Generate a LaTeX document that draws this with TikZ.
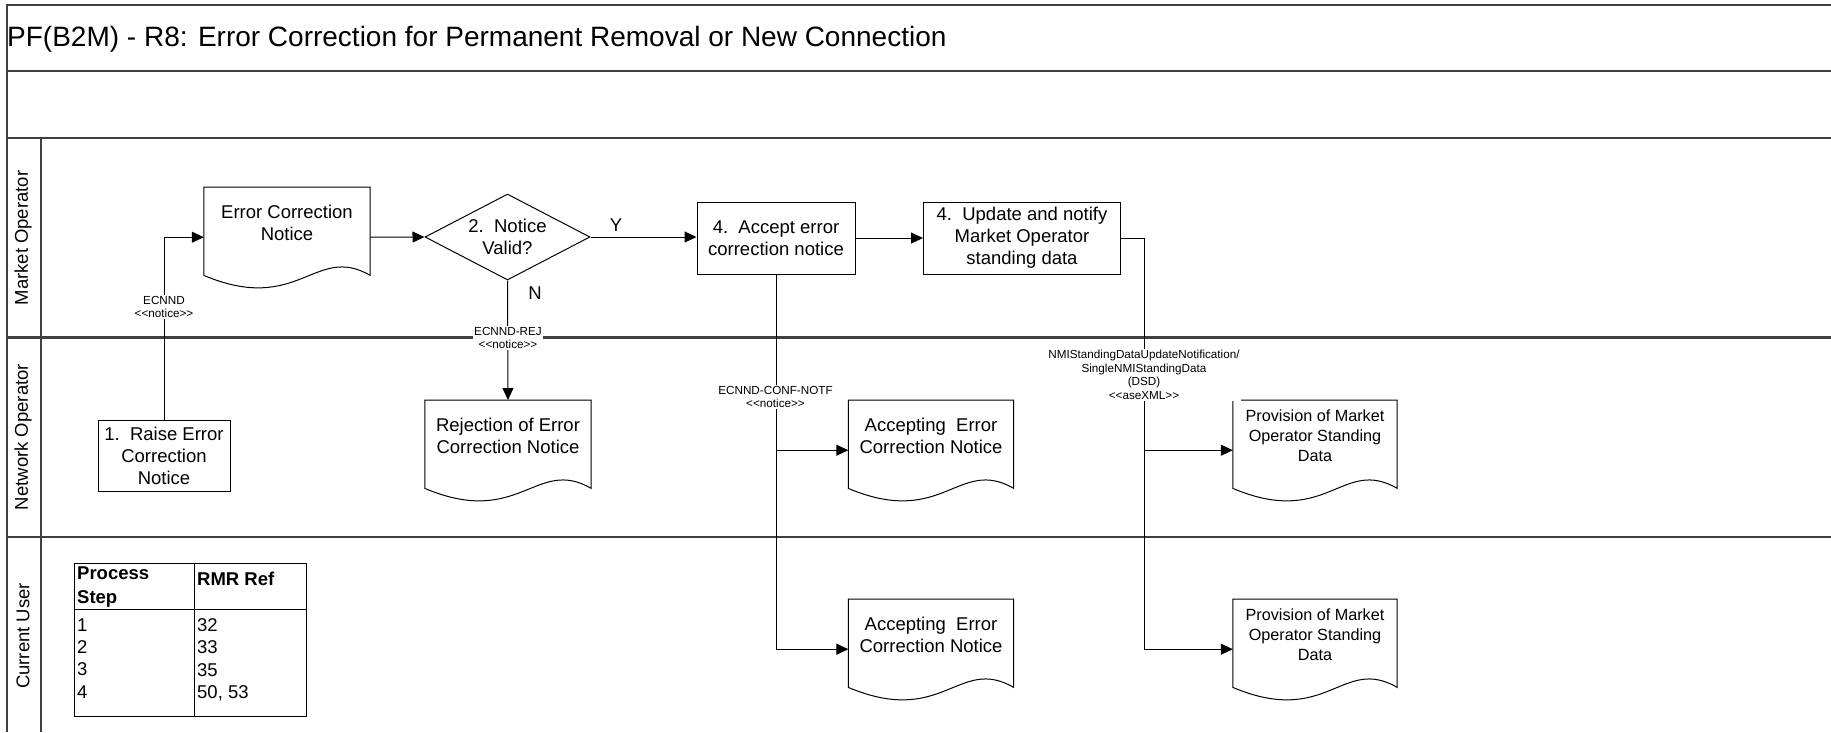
\documentclass[tikz,border=0pt]{standalone}
\usepackage{fontspec}
\setmainfont{Liberation Sans}
\usetikzlibrary{arrows.meta,shapes.geometric}

\newcommand\ttlfont{\fontsize{28pt}{33pt}\selectfont}
\newcommand\boxfont{\fontsize{18.5pt}{22pt}\selectfont}
\newcommand\provfont{\fontsize{16.2pt}{20pt}\selectfont}
\newcommand\msgfont{\fontsize{11.7pt}{13.5pt}\selectfont}
\newcommand\tblfont{\fontsize{18.5pt}{22.3pt}\selectfont}

\tikzset{
  lane/.style={line width=2.2pt, draw=black!75},
  stepbox/.style={draw, line width=1pt, align=center, font=\boxfont, inner sep=0pt},
  docbox/.style={align=center, font=\boxfont, minimum width=166pt, minimum height=71pt, inner sep=0pt, anchor=north},
  docline/.style={line width=1pt},
  flow/.style={line width=1pt, -{Triangle[length=12pt,width=11pt]}},
  link/.style={line width=1pt},
  msg/.style={fill=white, align=center, font=\msgfont, inner sep=1pt},
}

\begin{document}
\begin{tikzpicture}[x=1pt,y=-1pt]
  \useasboundingbox (0,0) rectangle (1831,732);

  % 泳道
  \draw[lane] (1831,5) -- (7,5) -- (7,732);
  \draw[lane] (7,71) -- (1831,71);
  \draw[lane] (7,138) -- (1831,138);
  \draw[lane] (7,337.5) -- (1831,337.5);
  \draw[lane] (7,537) -- (1831,537);
  \draw[lane] (41,138) -- (41,732);

  \node[anchor=west, inner sep=0pt, font=\ttlfont] (title) at (7,39) {PF(B2M) - R8: Error Correction for Permanent Removal or New Connection};

  \node[rotate=90, font=\boxfont] (mo) at (23,238) {Market Operator};
  \node[rotate=90, font=\boxfont] (no) at (23,437) {Network Operator};
  \node[rotate=90, font=\boxfont] (cu) at (23,636) {Current User};

  % Market Operator
  \node[docbox] (ecn) at (287,187) {Error Correction\\Notice};
  \node[diamond, draw, line width=1pt, aspect=1.9, minimum width=165pt, minimum height=86pt, inner sep=0pt, align=center, font=\boxfont] (valid) at (507.5,237) {2.\ \ Notice\\Valid?};
  \node[stepbox, minimum width=158pt, minimum height=72pt] (accept) at (776,238) {4.\ \ Accept error\\correction notice};
  \node[stepbox, minimum width=197pt, minimum height=72pt] (update) at (1022,238) {4.\ \ Update and notify\\Market Operator\\standing data};

  % Network Operator
  \node[stepbox, minimum width=132pt, minimum height=71pt] (raise) at (164,455.5) {1.\ \ Raise Error\\Correction\\Notice};
  \node[docbox] (rej) at (508,400) {Rejection of Error\\Correction Notice};
  \node[docbox, minimum width=165pt] (accno) at (931,400) {Accepting\ \ Error\\Correction Notice};
  \node[docbox, minimum width=164pt, font=\provfont] (provno) at (1315,400) {Provision of Market\\Operator Standing\\Data};

  % Current User
  \node[docbox, minimum width=165pt] (acccu) at (931,599) {Accepting\ \ Error\\Correction Notice};
  \node[docbox, minimum width=164pt, font=\provfont] (provcu) at (1315,599) {Provision of Market\\Operator Standing\\Data};

  % 文档边线
  \draw[docline] (ecn.north west) -- ([yshift=-17pt]ecn.south west) .. controls +(95,40) and +(-55,-32) .. ([yshift=-17pt]ecn.south east) -- (ecn.north east) -- cycle;
  \draw[docline] (rej.north west) -- ([yshift=-17pt]rej.south west) .. controls +(95,40) and +(-55,-32) .. ([yshift=-17pt]rej.south east) -- (rej.north east) -- cycle;
  \draw[docline] (accno.north west) -- ([yshift=-17pt]accno.south west) .. controls +(95,40) and +(-55,-32) .. ([yshift=-17pt]accno.south east) -- (accno.north east) -- cycle;
  \draw[docline] (provno.north west) -- ([yshift=-17pt]provno.south west) .. controls +(95,40) and +(-55,-32) .. ([yshift=-17pt]provno.south east) -- (provno.north east) -- cycle;
  \draw[docline] (acccu.north west) -- ([yshift=-17pt]acccu.south west) .. controls +(95,40) and +(-55,-32) .. ([yshift=-17pt]acccu.south east) -- (acccu.north east) -- cycle;
  \draw[docline] (provcu.north west) -- ([yshift=-17pt]provcu.south west) .. controls +(95,40) and +(-55,-32) .. ([yshift=-17pt]provcu.south east) -- (provcu.north east) -- cycle;

  \coordinate (ecnin) at ([yshift=-14.5pt]ecn.west);
  \coordinate (accnoin) at ([yshift=-14.5pt]accno.west);
  \coordinate (provnoin) at ([yshift=-14.5pt]provno.west);
  \coordinate (acccuin) at ([yshift=-14.5pt]acccu.west);
  \coordinate (provcuin) at ([yshift=-14.5pt]provcu.west);
  \coordinate (turn) at ([xshift=23pt]update.east);

  % 连线
  \draw[flow] (raise.north) |- (ecnin);
  \draw[flow] (ecnin -| ecn.east) -- (valid.west);
  \draw[flow] (valid.east) -- (valid.east -| accept.west);
  \draw[flow] (accept.east) -- (update.west);
  \draw[flow] (valid.south) -- (rej.north);
  \draw[flow] (accept.south) |- (acccuin);
  \draw[flow] (accept.south |- accnoin) -- (accnoin);
  \draw[flow] (update.east) -- (turn) |- (provcuin);
  \draw[flow] (turn |- provnoin) -- (provnoin);

  % 消息
  \node[msg] (ecnndlbl) at (164,307) {ECNND\\<{}<notice>{}>};
  \node[msg] (rejlbl) at (508,338) {ECNND-REJ\\<{}<notice>{}>};
  \node[msg] (conflbl) at (775.5,397) {ECNND-CONF-NOTF\\<{}<notice>{}>};
  \node[msg] (dsdlbl) at (1144,375) {NMIStandingDataUpdateNotification/\\SingleNMIStandingData\\(DSD)\\<{}<aseXML>{}>};
  \node[font=\boxfont] (ylbl) at (616,225) {Y};
  \node[font=\boxfont] (nlbl) at (535,293) {N};

  % 表
  \draw[link] (74,563) rectangle (306,716);
  \draw[link] (194,563) -- (194,716);
  \draw[link] (74,609) -- (306,609);
  \node[anchor=north west, inner sep=0pt, align=left, font=\fontsize{18.5pt}{24pt}\selectfont\bfseries] (stephd) at (77,566.5) {Process\\Step};
  \node[anchor=north west, inner sep=0pt, font=\boxfont\bfseries] (refhd) at (197,572) {RMR Ref};
  \node[anchor=north west, inner sep=0pt, align=left, font=\tblfont] (steps) at (77,618.4) {1\\2\\3\\4};
  \node[anchor=north west, inner sep=0pt, align=left, font=\tblfont] (refs) at (197,618.4) {32\\33\\35\\50, 53};
\end{tikzpicture}
\end{document}
